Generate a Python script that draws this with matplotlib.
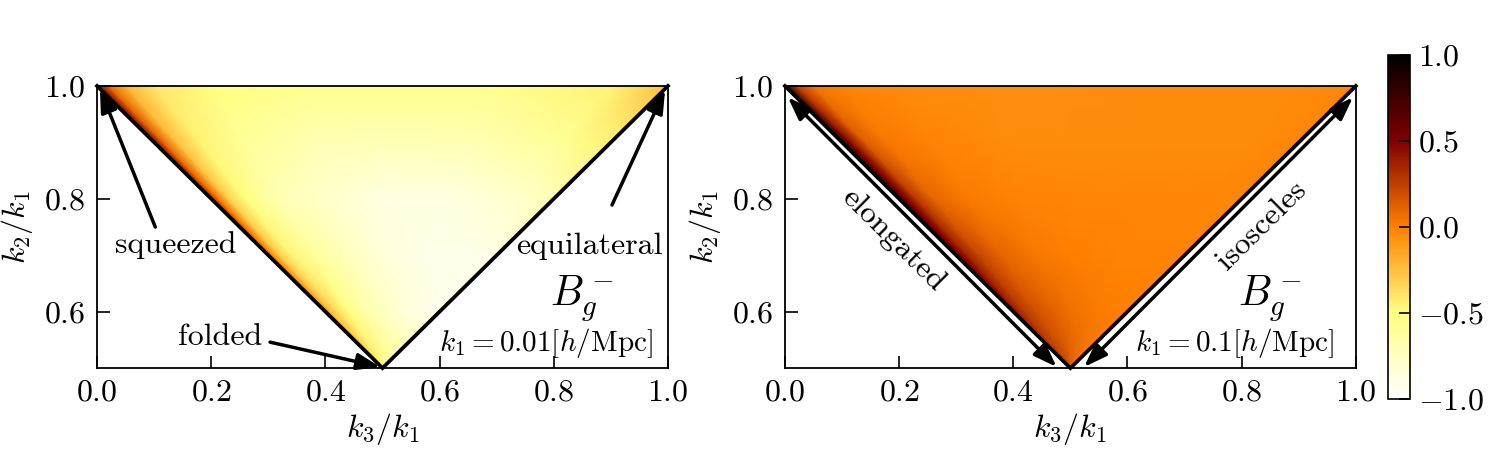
import numpy as np
import matplotlib
matplotlib.use("Agg")
import matplotlib.pyplot as plt

plt.rcParams['font.family'] = 'serif'
plt.rcParams['font.serif'] = ['cmr10', 'DejaVu Serif']
plt.rcParams['mathtext.fontset'] = 'cm'
plt.rcParams['axes.formatter.use_mathtext'] = True

# ---- data ----
# rows: k2/k1 values; columns: fraction across the triangle from the
# left (elongated/squeezed) edge to the right (isosceles) edge
k2_rows = [0.5, 0.6, 0.7, 0.8, 0.9, 1.0]
s_frac = [0.0, 0.02, 0.05, 0.1, 0.2, 0.35, 0.5, 0.7, 0.9, 1.0]

B_left = [
    [-0.15, -0.22, -0.30, -0.35, -0.40, -0.45, -0.50, -0.55, -0.60, -0.60],
    [0.05, -0.08, -0.25, -0.35, -0.50, -0.65, -0.75, -0.85, -0.92, -0.95],
    [0.20, -0.05, -0.30, -0.45, -0.60, -0.75, -0.85, -0.92, -0.92, -0.90],
    [0.35, 0.05, -0.30, -0.50, -0.70, -0.80, -0.88, -0.88, -0.80, -0.70],
    [0.50, 0.10, -0.25, -0.45, -0.60, -0.70, -0.72, -0.70, -0.58, -0.45],
    [0.60, 0.10, -0.20, -0.40, -0.50, -0.55, -0.55, -0.55, -0.45, -0.25],
]
B_right = [
    [0.30, 0.30, 0.28, 0.25, 0.22, 0.18, 0.14, 0.09, 0.04, 0.02],
    [0.50, 0.42, 0.35, 0.27, 0.18, 0.11, 0.06, 0.02, 0.00, -0.01],
    [0.65, 0.50, 0.36, 0.22, 0.10, 0.03, 0.00, -0.02, -0.02, -0.02],
    [0.75, 0.52, 0.28, 0.10, 0.02, -0.02, -0.03, -0.03, -0.03, -0.03],
    [0.85, 0.45, 0.14, 0.03, -0.02, -0.04, -0.04, -0.04, -0.04, -0.03],
    [0.90, 0.25, 0.04, -0.02, -0.04, -0.05, -0.05, -0.04, -0.04, -0.03],
]
k1_labels = [r'$k_1 = 0.01[h/{\rm Mpc}]$', r'$k_1 = 0.1[h/{\rm Mpc}]$']
xticks = [0.0, 0.2, 0.4, 0.6, 0.8, 1.0]
yticks = [0.6, 0.8, 1.0]
cbar_ticks = [-1.0, -0.5, 0.0, 0.5, 1.0]

# ---- mesh conforming to the triangle ----
Y = np.array(k2_rows)[:, None] * np.ones(len(s_frac))[None, :]
xL = 1.0 - Y
xR = Y
X = xL + np.array(s_frac)[None, :] * (xR - xL)

fig = plt.figure(figsize=(15, 4.5), dpi=100)
ax1 = fig.add_axes([0.0647, 0.182, 0.3806, 0.627])
ax2 = fig.add_axes([0.5233, 0.182, 0.3806, 0.627])
cax = fig.add_axes([0.9253, 0.113, 0.0147, 0.765])

fs = 23
for ax, B, lab in [(ax1, B_left, k1_labels[0]), (ax2, B_right, k1_labels[1])]:
    pm = ax.pcolormesh(X, Y, np.array(B), shading='gouraud', cmap='afmhot_r',
                       vmin=-1, vmax=1, rasterized=True)
    ax.plot([0, 0.5, 1], [1, 0.5, 1], color='k', lw=2.7, clip_on=False,
            solid_joinstyle='miter', zorder=5)
    ax.set_xlim(0, 1)
    ax.set_ylim(0.5, 1.0)
    ax.set_xticks(xticks)
    ax.set_yticks(yticks)
    ax.tick_params(direction='in', length=9, width=1.2, labelsize=fs,
                   top=False, right=False, pad=8)
    for sp in ax.spines.values():
        sp.set_linewidth(1.3)
    ax.set_xlabel(r'$k_3/k_1$', fontsize=fs, labelpad=3)
    ax.set_ylabel(r'$k_2/k_1$', fontsize=fs, labelpad=7)
    ax.text(0.85, 0.622, r'$B_g^-$', fontsize=30, ha='center', va='center')
    ax.text(0.787, 0.545, lab, fontsize=21, ha='center', va='center')

arrow_single = dict(arrowstyle='-|>,head_length=0.7,head_width=0.25',
                    color='k', lw=2.5, mutation_scale=20, shrinkA=0, shrinkB=0)
# left panel
ax1.annotate('', xy=(0.005, 0.995), xytext=(0.102, 0.75), arrowprops=arrow_single)
ax1.text(0.138, 0.718, 'squeezed', fontsize=fs, ha='center', va='center')
ax1.annotate('', xy=(0.995, 0.993), xytext=(0.902, 0.789), arrowprops=arrow_single)
ax1.text(0.863, 0.716, 'equilateral', fontsize=fs, ha='center', va='center')
ax1.annotate('', xy=(0.496, 0.502), xytext=(0.303, 0.546), arrowprops=arrow_single)
ax1.text(0.215, 0.555, 'folded', fontsize=fs, ha='center', va='center')

# right panel
arrow_double = dict(arrowstyle='<|-|>,head_length=0.7,head_width=0.25',
                    color='k', lw=2.5, mutation_scale=20, shrinkA=0, shrinkB=0)
ax2.annotate('', xy=(0.476, 0.502), xytext=(0.005, 0.98), arrowprops=arrow_double)
ax2.annotate('', xy=(0.524, 0.502), xytext=(0.995, 0.98), arrowprops=arrow_double)
ax2.text(0.19, 0.727, 'elongated', fontsize=fs, ha='center', va='center',
         rotation=-44.7, rotation_mode='anchor')
ax2.text(0.835, 0.752, 'isosceles', fontsize=fs, ha='center', va='center',
         rotation=44.7, rotation_mode='anchor')

cb = fig.colorbar(pm, cax=cax, ticks=cbar_ticks)
cb.ax.tick_params(direction='in', length=8, width=1.2, labelsize=fs, pad=6)
cb.outline.set_linewidth(1.2)

fig.savefig('out.png', dpi=100)
